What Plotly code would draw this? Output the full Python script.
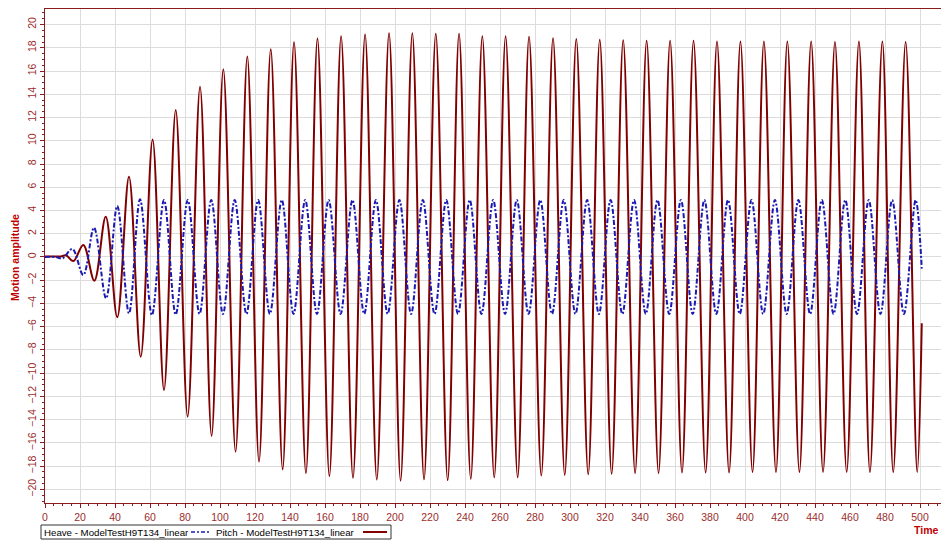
import plotly.graph_objects as go

# ---- data (extrema of each oscillation) ----
heave_t = [0, 6, 10, 15.6, 21.9, 28.0, 34.9, 41.3, 48.0, 54.3, 61.1, 68.0, 74.7,
           81.6, 88.3, 95.0, 101.7, 108.4, 115.1, 121.8, 128.5, 135.3, 142.0, 148.7,
           155.4, 162.1, 168.9, 175.7, 182.4, 189.1, 195.8, 202.5, 209.2, 215.9, 222.6,
           229.3, 236.0, 242.7, 249.4, 256.1, 262.9, 269.6, 276.3, 283.0, 289.7, 296.4,
           303.1, 309.8, 316.5, 323.2, 329.9, 336.6, 343.3, 350.0, 356.7, 363.4, 370.1,
           376.8, 383.6, 390.3, 397.0, 403.7, 410.4, 417.1, 423.8, 430.5, 437.2, 443.9,
           450.6, 457.3, 464.0, 470.7, 477.4, 484.1, 490.8, 497.5, 501.0]
heave_v = [0.0, 0.0, -0.12, 0.69, -1.55, 2.52, -3.56, 4.39, -4.85, 4.96, -4.99, 4.9, -4.95,
           4.9, -4.9, 4.9, -4.9, 4.9, -4.9, 4.9, -4.9, 4.9, -4.9, 4.9,
           -4.9, 4.9, -4.9, 4.9, -4.9, 4.9, -4.9, 4.9, -4.9, 4.9, -4.9,
           4.9, -4.9, 4.9, -4.9, 4.9, -4.9, 4.9, -4.9, 4.9, -4.9, 4.9,
           -4.9, 4.9, -4.9, 4.9, -4.9, 4.9, -4.9, 4.9, -4.9, 4.9, -4.9,
           4.9, -4.9, 4.9, -4.9, 4.9, -4.9, 4.9, -4.9, 4.9, -4.9, 4.9,
           -4.9, 4.9, -4.9, 4.9, -4.9, 4.9, -4.9, 4.9, -1.0]

pitch_t = [0, 9, 12, 16.2, 21.9, 28.2, 34.7, 41.3, 48.0, 54.7, 61.5, 68.0, 74.7, 81.5,
           88.6, 95.2, 101.9, 108.9, 115.6, 122.3, 129.0, 135.8, 142.3, 149.1, 155.7,
           162.5, 169.2, 176.0, 182.9, 189.6, 196.6, 203.2, 209.9, 216.6, 223.3, 230.1,
           236.6, 243.3, 249.9, 256.7, 263.2, 270.1, 276.6, 283.6, 290.3, 297.0, 303.6,
           310.4, 317.0, 323.8, 330.4, 337.2, 343.8, 350.6, 357.2, 364.0, 370.6, 377.5,
           384.0, 390.9, 397.4, 404.3, 410.8, 417.7, 424.2, 431.1, 437.8, 444.6, 451.4,
           458.1, 465.1, 471.4, 478.5, 484.7, 491.8, 498.4, 501.0]
pitch_v = [0.05, 0.05, 0.15, -0.35, 1.03, -2.04, 3.47, -5.19, 6.91, -8.58, 10.12, -11.45,
           12.65, -13.74, 14.66, -15.4, 16.15, -16.75, 17.25, -17.6, 17.87, -18.27, 18.47,
           -18.6, 18.8, -18.85, 19.0, -19.0, 19.15, -19.15, 19.25, -19.25, 19.25, -19.13,
           19.2, -19.2, 19.2, -19.1, 19.0, -18.96, 19.0, -18.96, 18.96, -18.8, 18.82,
           -18.75, 18.75, -18.7, 18.7, -18.65, 18.65, -18.6, 18.6, -18.6, 18.6, -18.55,
           18.6, -18.55, 18.55, -18.55, 18.55, -18.5, 18.55, -18.5, 18.55, -18.5, 18.55,
           -18.5, 18.5, -18.5, 18.55, -18.5, 18.55, -18.5, 18.5, -18.5, -5.7]

heave_name = "Heave - ModelTestH9T134_linear"
pitch_name = "Pitch - ModelTestH9T134_linear"

AXIS = "#8B1C1C"
LABEL = "#9B2D2D"
TITLE = "#C00000"
GRID = "#DCDCDC"
RED = "#800000"
BLUE = "#1A1AB0"
BLUE_DASH = "5px,2px,2px,2px"
FONT = "Liberation Sans, Arial, sans-serif"

W, H = 941, 540
ML, MR, MT, MB = 45, 0, 9, 37
PW, PH = W - ML - MR, H - MT - MB


def px(x):
    return (x - ML) / PW


def py(y):
    return (H - MB - y) / PH


fig = go.Figure()
fig.add_trace(go.Scatter(
    x=pitch_t, y=pitch_v, name=pitch_name, mode="lines",
    line=dict(color=RED, width=2, shape="spline", smoothing=1.0),
))
fig.add_trace(go.Scatter(
    x=heave_t, y=heave_v, name=heave_name, mode="lines",
    line=dict(color=BLUE, width=2, dash=BLUE_DASH, shape="spline", smoothing=1.0),
))

# custom legend (label followed by line sample, as in the reference)
leg_y = 532
shapes = [
    dict(type="rect", xref="paper", yref="paper", x0=px(41), x1=px(391),
         y0=py(525), y1=py(539), line=dict(color="#333333", width=1),
         fillcolor="white", layer="above"),
    dict(type="line", xref="paper", yref="paper", x0=px(191), x1=px(211),
         y0=py(leg_y), y1=py(leg_y), line=dict(color=BLUE, width=1.5, dash="4px,2px,2px,2px")),
    dict(type="line", xref="paper", yref="paper", x0=px(363), x1=px(387),
         y0=py(leg_y), y1=py(leg_y), line=dict(color=RED, width=2)),
]
annotations = [
    dict(text="<b>Motion amplitude</b>", xref="paper", yref="paper",
         x=px(15), y=0.496, textangle=-90, showarrow=False,
         xanchor="center", yanchor="middle",
         font=dict(family=FONT, size=10.5, color=TITLE)),
    dict(text="<b>Time</b>", xref="paper", yref="paper",
         x=px(940), y=py(530), showarrow=False,
         xanchor="right", yanchor="middle",
         font=dict(family=FONT, size=10.5, color=TITLE)),
    dict(text=heave_name, xref="paper", yref="paper", x=px(42), y=py(leg_y),
         xanchor="left", yanchor="middle", showarrow=False,
         font=dict(family=FONT, size=9.7, color="black")),
    dict(text=pitch_name, xref="paper", yref="paper", x=px(214), y=py(leg_y),
         xanchor="left", yanchor="middle", showarrow=False,
         font=dict(family=FONT, size=9.7, color="black")),
]

fig.update_layout(
    width=W, height=H,
    margin=dict(l=ML, r=MR, t=MT, b=MB),
    paper_bgcolor="white", plot_bgcolor="white",
    font=dict(family=FONT, size=10, color=LABEL),
    showlegend=False,
    xaxis=dict(
        range=[0, 512], tickmode="linear", tick0=0, dtick=20,
        showgrid=True, gridcolor=GRID, gridwidth=1, zeroline=False,
        showline=True, linecolor=AXIS, linewidth=1, mirror=True,
        ticks="outside", ticklen=4, tickcolor=AXIS,
        minor=dict(dtick=5, ticks="outside", ticklen=2, tickcolor=AXIS, showgrid=False),
        tickfont=dict(family=FONT, size=10.5, color=LABEL),
    ),
    yaxis=dict(
        range=[-21.17, 21.34], tickmode="linear", tick0=0, dtick=2,
        showgrid=True, gridcolor=GRID, gridwidth=1, zeroline=False,
        showline=True, linecolor=AXIS, linewidth=1,
        ticks="outside", ticklen=4, tickcolor=AXIS,
        minor=dict(dtick=0.5, ticks="outside", ticklen=2, tickcolor=AXIS, showgrid=False),
        tickangle=-90,
        tickfont=dict(family=FONT, size=10.5, color=LABEL),
    ),
    shapes=shapes,
    annotations=annotations,
)

fig.write_html(
    "out.html",
    config={"displayModeBar": False},
    post_script="document.body.style.margin='0px';document.documentElement.style.overflow='hidden';",
)
